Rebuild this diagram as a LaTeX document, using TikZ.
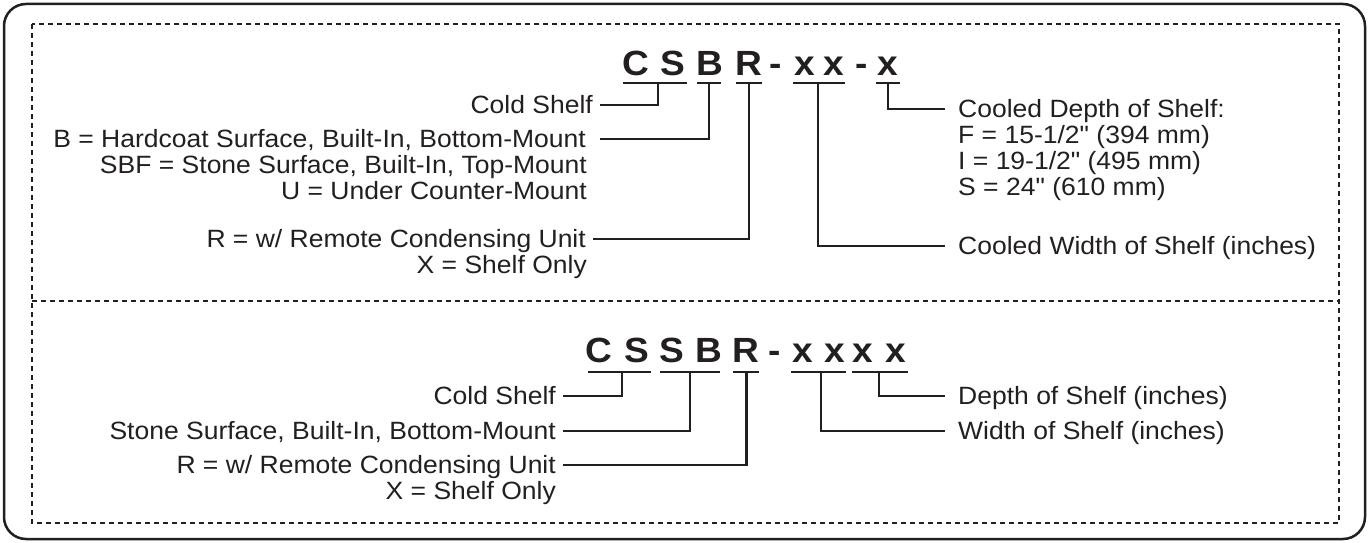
\documentclass[tikz,border=0pt]{standalone}
\usepackage{fontspec}
\setmainfont{Liberation Sans}[FakeStretch=1.06, Ligatures=TeXOff]
\definecolor{ink}{HTML}{231F20}
\newcommand\lblfont{\fontsize{25}{26}\selectfont}
\newcommand\codefont{\fontsize{35}{35}\selectfont\bfseries}
\begin{document}
\begin{tikzpicture}[x=1pt,y=-1pt,
  lbl/.style={font=\lblfont, text=ink, inner sep=0pt, text height=17.9pt, text depth=0pt},
  lbll/.style={lbl, anchor=east},
  lblr/.style={lbl, anchor=west},
  code/.style={font=\codefont, text=ink, inner sep=0pt, anchor=base},
  uline/.style={draw=ink, line width=2.6pt},
  conn/.style={draw=ink, line width=2.4pt},
  frame/.style={draw=ink, line width=2.5pt, rounded corners=22pt},
  dashbox/.style={draw=ink, line width=2.4pt, dash pattern=on 5pt off 4pt}]
\useasboundingbox (0,0) rectangle (1369,543);
\draw[frame] (4,4) rectangle (1365,539);
\draw[dashbox] (32,24) rectangle (1339,523);
\draw[dashbox] (32,301) -- (1339,301);

% ---------- top code ----------
\node[code] (ac1) at (635.5,76) {C};
\node[code] (ac2) at (672.5,76) {S};
\node[code] (ac3) at (709.5,76) {B};
\node[code] (ac4) at (748.5,76) {R};
\node[code] (ac5) at (776,76) {-};
\node[code] (ac6) at (805,76) {x};
\node[code] (ac7) at (833.5,76) {x};
\node[code] (ac8) at (862,76) {-};
\node[code] (ac9) at (887.5,76) {x};
\draw[uline] (623,83) -- (687,83);
\draw[uline] (697,83) -- (721,83);
\draw[uline] (736,83) -- (762,83);
\draw[uline] (793,83) -- (845,83);
\draw[uline] (876,83) -- (900,83);
\coordinate (au1) at (658,83);
\coordinate (au2) at (709,83);
\coordinate (au3) at (749,83);
\coordinate (au4) at (818,83);
\coordinate (au5) at (888,83);

\node[lbll] (acold) at (593,105) {Cold Shelf};
\node[lbll] (ab) at (586,139) {B = Hardcoat Surface, Built-In, Bottom-Mount};
\node[lbll] (asbf) at (587,165) {SBF = Stone Surface, Built-In, Top-Mount};
\node[lbll] (au) at (587,191) {U = Under Counter-Mount};
\node[lbll] (ar) at (586,239) {R = w/ Remote Condensing Unit};
\node[lbll] (ax) at (587,265) {X = Shelf Only};

\node[lblr] (adepth) at (958,109) {Cooled Depth of Shelf:};
\node[lblr] (af) at (958,135) {F = 15-1/2" (394 mm)};
\node[lblr] (ai) at (958,161) {I = 19-1/2" (495 mm)};
\node[lblr] (as) at (958,187) {S = 24" (610 mm)};
\node[lblr] (awidth) at (958,246) {Cooled Width of Shelf (inches)};

\draw[conn] (au1) |- ([xshift=7pt]acold.east);
\draw[conn] (au2) |- ([xshift=14pt]ab.east);
\draw[conn] (au3) |- ([xshift=7pt]ar.east);
\draw[conn] (au4) |- ([xshift=-13pt]awidth.west);
\draw[conn] (au5) |- ([xshift=-13pt]adepth.west);

% ---------- bottom code ----------
\node[code] (bc1) at (599,362) {C};
\node[code] (bc2) at (637,362) {S};
\node[code] (bc3) at (671.5,362) {S};
\node[code] (bc4) at (708.5,362) {B};
\node[code] (bc5) at (745.8,362) {R};
\node[code] (bc6) at (775,362) {-};
\node[code] (bc7) at (802.5,362) {x};
\node[code] (bc8) at (835,362) {x};
\node[code] (bc9) at (863.3,362) {x};
\node[code] (bc10) at (896,362) {x};
\draw[uline] (588,372) -- (651,372);
\draw[uline] (660,372) -- (720,372);
\draw[uline] (733,372) -- (759,372);
\draw[uline] (791,372) -- (846,372);
\draw[uline] (852,372) -- (908,372);
\coordinate (bu1) at (621.7,372);
\coordinate (bu2) at (690,372);
\coordinate (bu3) at (746.5,372);
\coordinate (bu4) at (821,372);
\coordinate (bu5) at (879,372);

\node[lbll] (bcold) at (556,396) {Cold Shelf};
\node[lbll] (bstone) at (556,431) {Stone Surface, Built-In, Bottom-Mount};
\node[lbll] (br) at (556,465) {R = w/ Remote Condensing Unit};
\node[lbll] (bx) at (556,491) {X = Shelf Only};

\node[lblr] (bdepth) at (958,396) {Depth of Shelf (inches)};
\node[lblr] (bwidth) at (958,431) {Width of Shelf (inches)};

\draw[conn] (bu1) |- ([xshift=7pt]bcold.east);
\draw[conn] (bu2) |- ([xshift=7pt]bstone.east);
\draw[conn] (bu3) |- ([xshift=7pt]br.east);
\draw[conn] (bu4) |- ([xshift=-13pt]bwidth.west);
\draw[conn] (bu5) |- ([xshift=-13pt]bdepth.west);
\end{tikzpicture}
\end{document}
